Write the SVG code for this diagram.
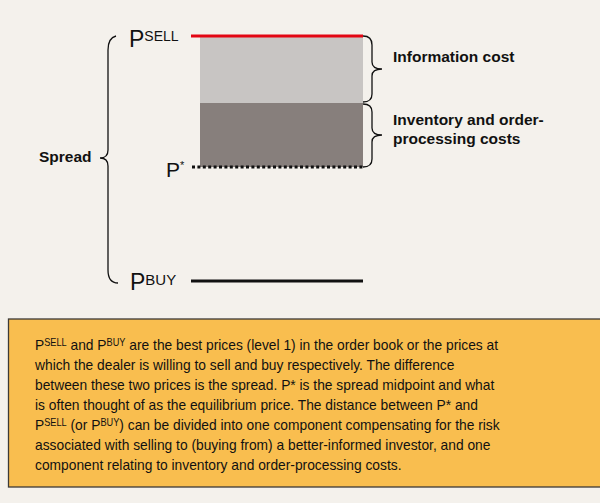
<svg xmlns="http://www.w3.org/2000/svg" width="600" height="503" viewBox="0 0 600 503">
<style>
.lbl{font-family:"Liberation Sans",Arial,sans-serif;font-weight:bold;font-size:15.5px;fill:#111}
.p{font-family:"Liberation Sans",Arial,sans-serif;fill:#111}
.brace{fill:none;stroke:#111;stroke-width:1.3}
.body{font-family:"Liberation Sans",Arial,sans-serif;font-size:15px;fill:#111}
</style>
<rect x="0" y="0" width="600" height="503" fill="#f4f1ec"/>
<g id="info-block">
<rect x="200" y="37" width="163" height="66" fill="#c8c5c3"/>
</g>
<g id="inventory-block">
<rect x="200" y="103" width="163" height="64" fill="#877f7c"/>
</g>
<g id="connectors">
<line x1="191" y1="36" x2="363" y2="36" stroke="#e30613" stroke-width="3.2"/>
<line x1="192" y1="167" x2="363" y2="167" stroke="#111" stroke-width="3" stroke-dasharray="3 2.4"/>
<line x1="191" y1="281" x2="363" y2="281" stroke="#111" stroke-width="3"/>
<path class="brace" d="M116,36 Q108,38 108,50 L108,150 Q108,158 100,158 Q108,158 108,166 L108,270 Q108,283 118,283"/>
<path class="brace" d="M363,36 Q372,36 372,45 L372,62 Q372,69 382,69 Q372,69 372,76 L372,94 Q372,102 363,102"/>
<path class="brace" d="M363,104 Q372,104 372,112 L372,128 Q372,135 382,135 Q372,135 372,142 L372,159 Q372,167 363,167"/>
</g>
<g id="psell">
<text class="p" x="129" y="47" font-size="23">P<tspan font-size="14" dy="-6.5">SELL</tspan></text>
</g>
<g id="pstar">
<text class="p" x="166" y="177" font-size="21">P<tspan font-size="11" dy="-8">*</tspan></text>
</g>
<g id="pbuy">
<text class="p" x="130" y="290" font-size="23">P<tspan font-size="15" dy="-5">BUY</tspan></text>
</g>
<g id="spread-label">
<text class="lbl" x="39" y="162">Spread</text>
</g>
<g id="info-label">
<text class="lbl" x="393" y="62">Information cost</text>
</g>
<g id="inventory-label">
<text class="lbl" x="393" y="125">Inventory and order-</text>
<text class="lbl" x="393" y="144">processing costs</text>
</g>
<g id="note">
<rect x="8.5" y="319" width="600" height="168" fill="#f9be4f" stroke="#3d3a36" stroke-width="1.3"/>
<g class="body" transform="translate(35,0) scale(0.92,1)">
<text x="0" y="350">P<tspan font-size="10" dy="-4">SELL</tspan><tspan dy="4"> and P</tspan><tspan font-size="10" dy="-4">BUY</tspan><tspan dy="4"> are the best prices (level 1) in the order book or the prices at</tspan></text>
<text x="0" y="370">which the dealer is willing to sell and buy respectively. The difference</text>
<text x="0" y="390">between these two prices is the spread. P* is the spread midpoint and what</text>
<text x="0" y="410">is often thought of as the equilibrium price. The distance between P* and</text>
<text x="0" y="430">P<tspan font-size="10" dy="-4">SELL</tspan><tspan dy="4"> (or P</tspan><tspan font-size="10" dy="-4">BUY</tspan><tspan dy="4">) can be divided into one component compensating for the risk</tspan></text>
<text x="0" y="450">associated with selling to (buying from) a better-informed investor, and one</text>
<text x="0" y="470">component relating to inventory and order-processing costs.</text>
</g>
</g>
</svg>
